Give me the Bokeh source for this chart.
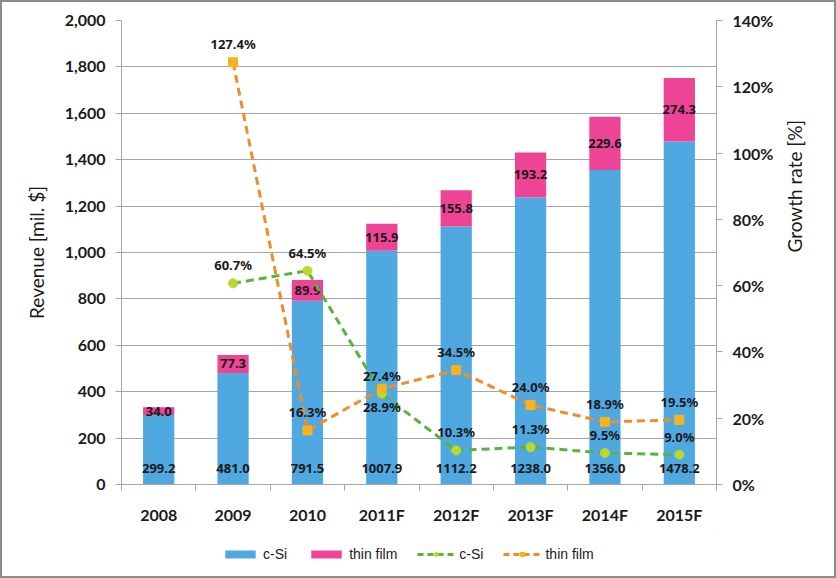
import math
from bokeh.plotting import figure
from bokeh.layouts import column
from bokeh.models import (Range1d, LinearAxis, FixedTicker, NumeralTickFormatter,
                          PrintfTickFormatter, Legend, LegendItem, ColumnDataSource)
from bokeh.core.properties import value
from bokeh.embed import file_html
from bokeh.resources import INLINE

categories = ["2008", "2009", "2010", "2011F", "2012F", "2013F", "2014F", "2015F"]
csi_revenue = [299.2, 481.0, 791.5, 1007.9, 1112.2, 1238.0, 1356.0, 1478.2]
thin_revenue = [34.0, 77.3, 89.9, 115.9, 155.8, 193.2, 229.6, 274.3]
csi_growth = [None, 60.7, 64.5, 27.4, 10.3, 11.3, 9.5, 9.0]
thin_growth = [None, 127.4, 16.3, 28.9, 34.5, 24.0, 18.9, 19.5]
# label placement style for growth labels (1 = above marker, -1 = below)
csi_label_side = [1, 1, 1, 1, 1, 1, 1, 1]
thin_label_side = [1, 1, 1, -1, 1, 1, 1, 1]

BLUE = "#4FA8E0"
PINK = "#EE4496"
GREEN_LINE = "#58B43C"
GREEN_MARK = "#B8D82C"
ORANGE_LINE = "#F28C28"
ORANGE_MARK = "#F5B41E"
GRID = "#A6A6A6"
TICK_FONT = "Lato"
LABEL_FONT = "Noto Sans"

xs = [i + 0.5 for i in range(len(categories))]
tops = [c + t for c, t in zip(csi_revenue, thin_revenue)]
mids = [c + t / 2 for c, t in zip(csi_revenue, thin_revenue)]

p = figure(width=832, height=527, x_range=Range1d(0, len(categories)),
           y_range=Range1d(0, 2000), output_backend="svg", toolbar_location=None,
           min_border_left=119, min_border_right=118, min_border_top=18,
           min_border_bottom=45)
p.extra_y_ranges = {"growth": Range1d(0, 140)}
p.outline_line_color = None
p.background_fill_color = "white"
p.border_fill_color = "white"

# axes
p.xaxis.ticker = FixedTicker(ticks=xs, minor_ticks=list(range(len(categories) + 1)))
p.xaxis.major_label_overrides = {x: c for x, c in zip(xs, categories)}
p.xaxis.major_tick_line_color = None
p.xaxis.minor_tick_line_color = GRID
p.xaxis.minor_tick_out = 6
p.xaxis.minor_tick_in = 0
p.xaxis.axis_line_color = GRID
p.xaxis.major_label_standoff = 14
p.xaxis.major_label_text_font = TICK_FONT
p.xaxis.major_label_text_font_style = "bold"
p.xaxis.major_label_text_font_size = "16px"
p.xaxis.major_label_text_color = "#1a1a1a"

p.yaxis.ticker = FixedTicker(ticks=list(range(0, 2001, 200)))
p.yaxis.formatter = NumeralTickFormatter(format="0,0")
p.yaxis.axis_label = "Revenue [mil. $]"
for ax in [p.yaxis[0]]:
    ax.axis_line_color = GRID
    ax.major_tick_line_color = GRID
    ax.major_tick_out = 6
    ax.major_tick_in = 0
    ax.minor_tick_line_color = None
    ax.major_label_text_font = TICK_FONT
    ax.major_label_text_font_style = "bold"
    ax.major_label_text_font_size = "16px"
    ax.major_label_text_color = "#1a1a1a"
    ax.major_label_standoff = 10
    ax.axis_label_text_font = TICK_FONT
    ax.axis_label_text_font_style = "normal"
    ax.axis_label_text_font_size = "19px"
    ax.axis_label_text_color = "#1a1a1a"
    ax.axis_label_standoff = 14

ry = LinearAxis(y_range_name="growth", ticker=FixedTicker(ticks=list(range(0, 141, 20))),
                formatter=PrintfTickFormatter(format="%d%%"), axis_label="Growth rate [%]")
ry.axis_line_color = GRID
ry.major_tick_line_color = GRID
ry.major_tick_out = 6
ry.major_tick_in = 0
ry.minor_tick_line_color = None
ry.major_label_text_font = TICK_FONT
ry.major_label_text_font_style = "bold"
ry.major_label_text_font_size = "16px"
ry.major_label_text_color = "#1a1a1a"
ry.major_label_standoff = 10
ry.axis_label_text_font = TICK_FONT
ry.axis_label_text_font_style = "normal"
ry.axis_label_text_font_size = "19px"
ry.axis_label_text_color = "#1a1a1a"
ry.axis_label_standoff = 18
ry.axis_label_orientation = math.pi / 2
p.add_layout(ry, "right")

p.xgrid.grid_line_color = None
p.ygrid.grid_line_color = GRID
p.ygrid.grid_line_width = 1

# bars
src = ColumnDataSource(dict(x=xs, csi=csi_revenue, thin=thin_revenue, top=tops, mid=mids,
                            csi_lbl=[f"{v:.1f}" for v in csi_revenue],
                            thin_lbl=[f"{v:.1f}" for v in thin_revenue]))
p.vbar(x="x", bottom=0, top="csi", width=0.42, source=src, fill_color=BLUE, line_color=None)
p.vbar(x="x", bottom="csi", top="top", width=0.42, source=src, fill_color=PINK, line_color=None)

p.text(x="x", y=0, text="csi_lbl", source=src, text_align="center", text_baseline="middle",
       y_offset=-16, text_font=value(LABEL_FONT), text_font_style="bold",
       text_font_size="13px", text_color="#1a1a1a")
p.text(x="x", y="mid", text="thin_lbl", source=src, text_align="center", text_baseline="middle",
       text_font=value(LABEL_FONT), text_font_style="bold",
       text_font_size="13px", text_color="#1a1a1a")

# growth lines
gx = xs[1:]
gsrc = ColumnDataSource(dict(
    x=gx, csi=csi_growth[1:], thin=thin_growth[1:],
    csi_lbl=[f"{v:.1f}%" for v in csi_growth[1:]],
    thin_lbl=[f"{v:.1f}%" for v in thin_growth[1:]],
    csi_off=[-18 * s for s in csi_label_side[1:]],
    thin_off=[-18 * s for s in thin_label_side[1:]],
))
p.line(x="x", y="csi", source=gsrc, y_range_name="growth", line_color=GREEN_LINE,
       line_width=3, line_dash="8 5")
p.scatter(x="x", y="csi", source=gsrc, y_range_name="growth", marker="circle", size=9,
          fill_color=GREEN_MARK, line_color=GREEN_MARK)
p.line(x="x", y="thin", source=gsrc, y_range_name="growth", line_color=ORANGE_LINE,
       line_width=3, line_dash="8 5")
p.scatter(x="x", y="thin", source=gsrc, y_range_name="growth", marker="square", size=9,
          fill_color=ORANGE_MARK, line_color=ORANGE_MARK)

p.text(x="x", y="csi", text="csi_lbl", source=gsrc, y_range_name="growth", y_offset="csi_off",
       text_align="center", text_baseline="middle", text_font=value(LABEL_FONT),
       text_font_style="bold", text_font_size="13px", text_color="#1a1a1a")
p.text(x="x", y="thin", text="thin_lbl", source=gsrc, y_range_name="growth", y_offset="thin_off",
       text_align="center", text_baseline="middle", text_font=value(LABEL_FONT),
       text_font_style="bold", text_font_size="13px", text_color="#1a1a1a")

# legend strip (separate figure below the chart; its renderers sit outside its visible range)
lg = figure(width=832, height=47, x_range=Range1d(0, 1), y_range=Range1d(0, 1),
            output_backend="svg", toolbar_location=None, min_border=0,
            min_border_left=0, min_border_right=0, min_border_top=0, min_border_bottom=0)
lg.axis.visible = False
lg.grid.visible = False
lg.outline_line_color = None
lb1 = lg.vbar(x=[10], top=[10], bottom=[9], width=0.1, fill_color=BLUE, line_color=None)
lb2 = lg.vbar(x=[10], top=[10], bottom=[9], width=0.1, fill_color=PINK, line_color=None)
ll1 = lg.line(x=[10, 11], y=[10, 10], line_color=GREEN_LINE, line_width=3, line_dash="6 4")
lm1 = lg.scatter(x=[10], y=[10], marker="circle", size=9, fill_color=GREEN_MARK, line_color=GREEN_MARK)
ll2 = lg.line(x=[10, 11], y=[10, 10], line_color=ORANGE_LINE, line_width=3, line_dash="6 4")
lm2 = lg.scatter(x=[10], y=[10], marker="square", size=9, fill_color=ORANGE_MARK, line_color=ORANGE_MARK)

legend = Legend(items=[
    LegendItem(label="c-Si", renderers=[lb1]),
    LegendItem(label="thin film", renderers=[lb2]),
    LegendItem(label="c-Si", renderers=[ll1, lm1]),
    LegendItem(label="thin film", renderers=[ll2, lm2]),
], orientation="horizontal", location=(100, 14), glyph_width=38, glyph_height=10,
    label_standoff=4, spacing=20, padding=0, margin=0, border_line_color=None,
    background_fill_alpha=0, label_text_font="Liberation Sans",
    label_text_font_size="14px", label_text_color="#1a1a1a")
lg.add_layout(legend, "center")

layout = column(p, lg, spacing=0, styles={"border": "2px solid #8c8c8c", "background": "white"})

open("out.html", "w").write(file_html(layout, INLINE))
